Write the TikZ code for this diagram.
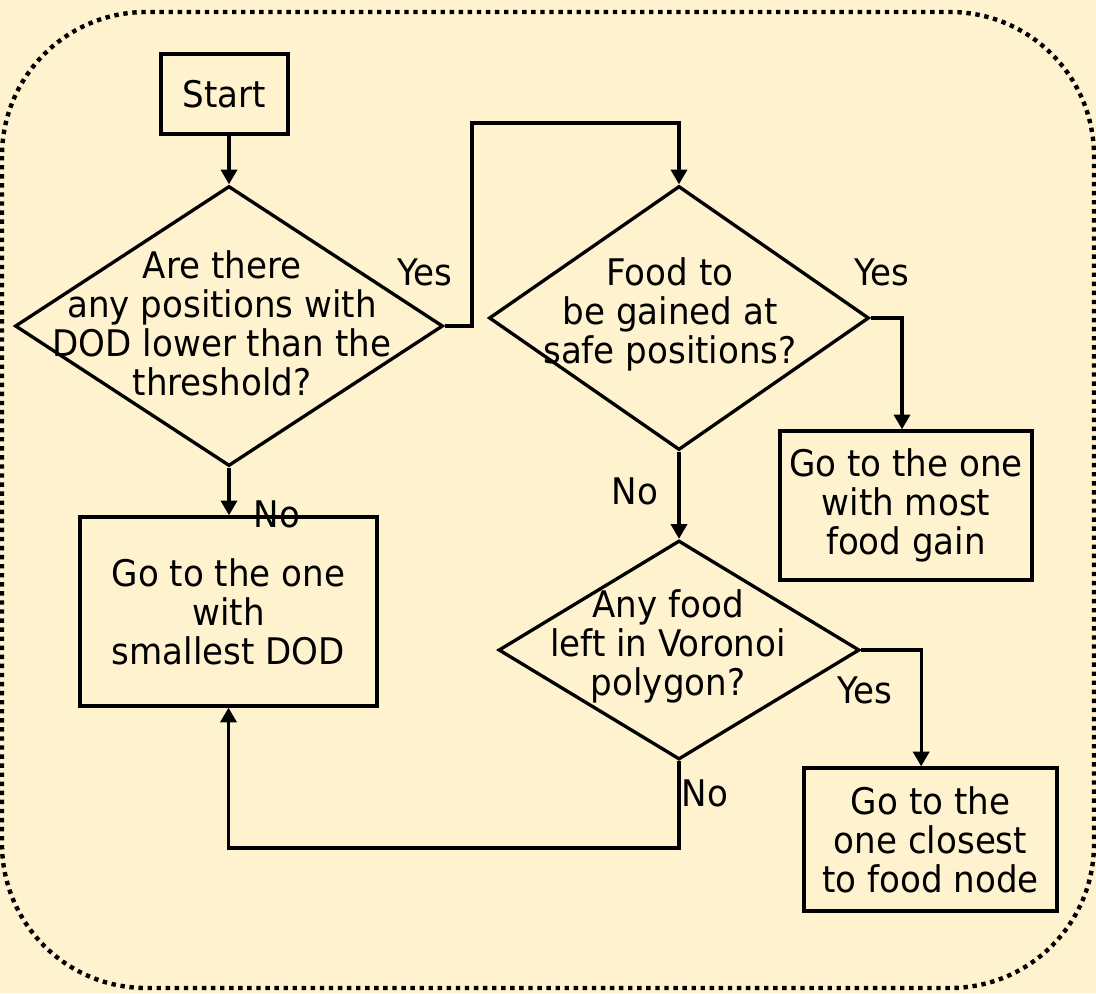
\documentclass[tikz,border=0pt]{standalone}
\usepackage{fontspec}
\setmainfont[FakeStretch=0.93]{DejaVu Sans}
\usetikzlibrary{arrows.meta,positioning,shapes.geometric}
\definecolor{paper}{RGB}{255,242,206}
\tikzset{
    process/.style={
    rectangle,draw=black,line width=2.5pt,align=center,inner sep=0pt,font=\fontsize{27.5}{29.3}\selectfont
    },
    decision/.style={
    diamond,draw=black,line width=2.5pt,inner sep=0pt
    },
    qtext/.style={
    align=center,inner sep=0pt,font=\fontsize{27.5}{29.3}\selectfont
    },
    answer/.style={
    inner sep=0pt,font=\fontsize{27.5}{29.3}\selectfont
    },
    flow/.style={
    line width=2.5pt,-{Triangle[length=11pt,width=12pt]}
    },
    frame/.style={
    line width=3.3pt,dash pattern=on 3.3pt off 3.5pt,rounded corners=108pt
    },
}
\begin{document}
\begin{tikzpicture}[x=0.75pt,y=-0.75pt]
   \fill[paper] (0,0) rectangle (1096,993);
   \useasboundingbox (0,0) rectangle (1096,993);
   \draw[frame] (2,12) rectangle (1094,988);

   \node[process,minimum width=95.25pt,minimum height=60pt] (start) at (224.5,94) {Start};
   \node[decision,minimum width=321pt,minimum height=210pt] (q1) at (229,326) {};
   \node[qtext] (q1t) at (222,323) {Are there\\any positions with\\DOD lower than the\\threshold?};
   \node[decision,minimum width=285pt,minimum height=198pt] (q2) at (679,318) {};
   \node[qtext] (q2t) at (670,314) {Food to\\be gained at\\safe positions?};
   \node[decision,minimum width=270.75pt,minimum height=164.25pt] (q3) at (679,650) {};
   \node[qtext] (q3t) at (668,646) {Any food\\left in Voronoi\\polygon?};
   \node[process,minimum width=189pt,minimum height=111.75pt] (most) at (906,505.5) {Go to the one\\with most\\food gain};
   \node[process,minimum width=222.75pt,minimum height=141.75pt] (smallest) at (228.5,611.5) {Go to the one\\with\\smallest DOD};
   \node[process,minimum width=189.75pt,minimum height=107.25pt] (closest) at (930.5,839.5) {Go to the\\one closest\\to food node};

   \coordinate (k1) at (472,123);
   \coordinate (k2) at (680,848);

   \draw[flow] (q1.north |- start.south) -- (q1.north);
   \draw[flow] (q1.east) -| (k1) -| (q2.north);
   \draw[flow] (q1.south) -- (q1.south |- smallest.north);
   \draw[flow] (q2.east) -| ([xshift=-3pt]most.north);
   \draw[flow] (q2.south) -- (q3.north);
   \draw[flow] (q3.east) -| ([xshift=-7pt]closest.north);
   \draw[flow] (q3.south) -- (q3.south |- k2) -| (smallest.south);

   \node[answer] (y1) at (425,272) {Yes};
   \node[answer] (n1) at (277,514) {No};
   \node[answer] (y2) at (882,272) {Yes};
   \node[answer] (n2) at (635,491) {No};
   \node[answer] (y3) at (865,690) {Yes};
   \node[answer] (n3) at (705,793) {No};
\end{tikzpicture}
\end{document}
